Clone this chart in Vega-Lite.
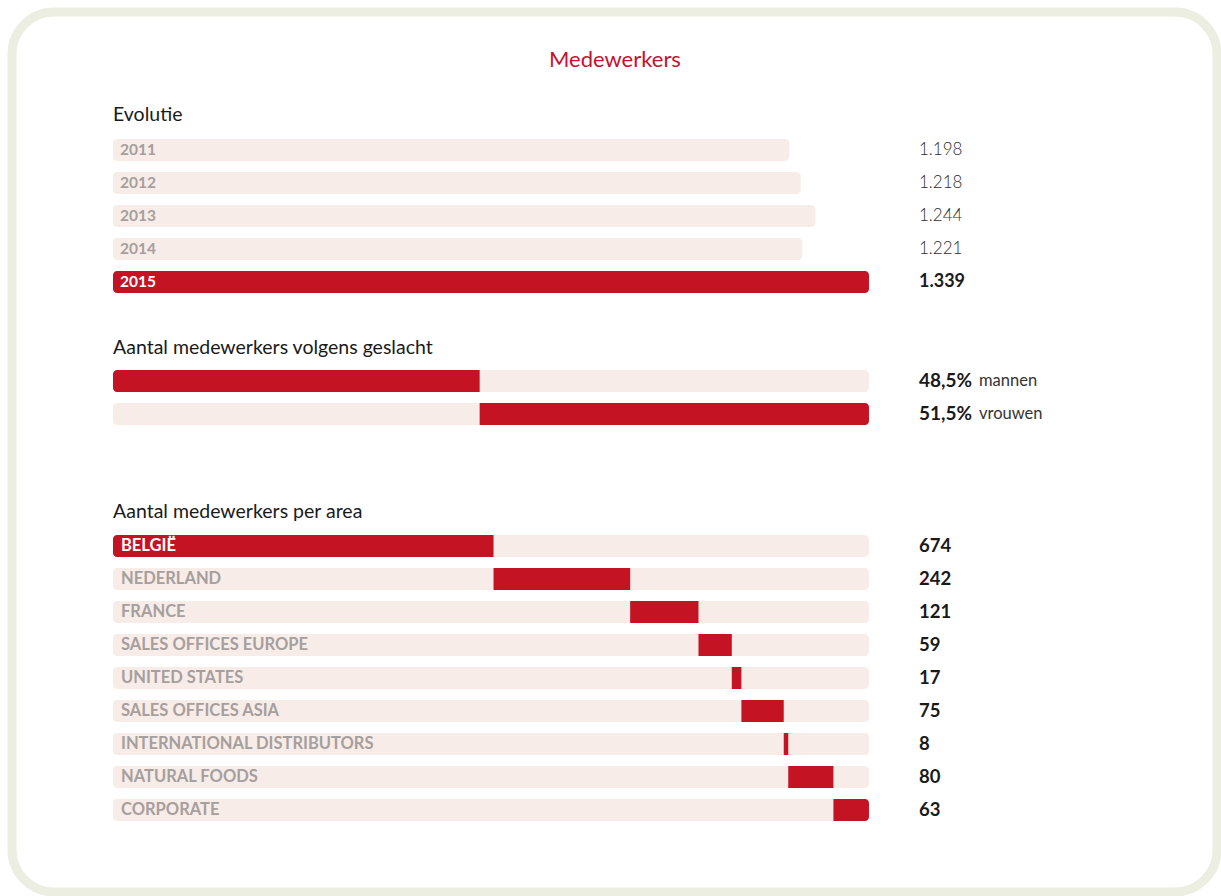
{
  "$schema": "https://vega.github.io/schema/vega-lite/v6.json",
  "width": 1205,
  "height": 880,
  "autosize": {"type": "none"},
  "padding": {"left": 12, "top": 12, "right": 4, "bottom": 4},
  "background": "white",
  "config": {
    "view": {"stroke": "#ebeee0", "strokeWidth": 9, "cornerRadius": 42},
    "font": "Lato",
    "locale": {"number": {"decimal": ",", "thousands": ".", "grouping": [3], "currency": ["€", ""]}}
  },
  "datasets": {
    "evo": [
      {"year": "2011", "value": 1198, "current": false},
      {"year": "2012", "value": 1218, "current": false},
      {"year": "2013", "value": 1244, "current": false},
      {"year": "2014", "value": 1221, "current": false},
      {"year": "2015", "value": 1339, "current": true}
    ],
    "gender": [
      {"label": "mannen", "share": 0.485, "start": 0.0, "end": 0.485},
      {"label": "vrouwen", "share": 0.515, "start": 0.485, "end": 1.0}
    ],
    "area": [
      {"name": "BELGIË", "count": 674},
      {"name": "NEDERLAND", "count": 242},
      {"name": "FRANCE", "count": 121},
      {"name": "SALES OFFICES EUROPE", "count": 59},
      {"name": "UNITED STATES", "count": 17},
      {"name": "SALES OFFICES ASIA", "count": 75},
      {"name": "INTERNATIONAL DISTRIBUTORS", "count": 8},
      {"name": "NATURAL FOODS", "count": 80},
      {"name": "CORPORATE", "count": 63}
    ],
    "titles": [
      {"text": "Evolutie", "row": -1.06},
      {"text": "Aantal medewerkers volgens geslacht", "row": 6},
      {"text": "Aantal medewerkers per area", "row": 10.97}
    ]
  },
  "encoding": {
    "y": {"field": "r", "type": "quantitative", "scale": {"domain": [-4.1818, 22.4848], "reverse": true, "zero": false, "nice": false, "padding": 0}, "axis": null}
  },
  "layer": [
    {
      "data": {"values": [{"text": "Medewerkers"}]},
      "transform": [{"calculate": "-2.73", "as": "r"}],
      "mark": {"type": "text", "fontSize": 22, "color": "#c8102e", "align": "center", "baseline": "middle"},
      "encoding": {
        "x": {"datum": 889, "type": "quantitative", "scale": {"domain": [-178.9, 1955.4], "nice": false, "zero": false, "padding": 0}, "axis": null},
        "text": {"field": "text"}
      }
    },
    {
      "data": {"name": "titles"},
      "transform": [{"calculate": "datum.row", "as": "r"}],
      "mark": {"type": "text", "fontSize": 19.5, "color": "#1a1a1a", "align": "left", "baseline": "middle"},
      "encoding": {"x": {"datum": 0}, "text": {"field": "text"}}
    },
    {
      "data": {"name": "evo"},
      "transform": [{"window": [{"op": "row_number", "as": "rn"}]}, {"calculate": "datum.rn - 1", "as": "r"}],
      "layer": [
        {
          "mark": {"type": "bar", "size": 22, "cornerRadius": 4},
          "encoding": {
            "x": {"field": "value", "type": "quantitative"},
            "x2": {"datum": 0},
            "color": {"condition": {"test": "datum.current", "value": "#c41424"}, "value": "#f8ece8"}
          }
        },
        {
          "mark": {"type": "text", "fontSize": 15.5, "fontWeight": "bold", "align": "left", "baseline": "middle", "dx": 7},
          "encoding": {
            "x": {"datum": 0},
            "text": {"field": "year"},
            "color": {"condition": {"test": "datum.current", "value": "#ffffff"}, "value": "#a59f9d"}
          }
        },
        {
          "transform": [{"filter": "!datum.current"}],
          "mark": {"type": "text", "fontSize": 17, "fontWeight": 300, "color": "#2e2e2e", "align": "left", "baseline": "middle", "dx": 50},
          "encoding": {
            "x": {"datum": 1339},
            "text": {"field": "value", "type": "quantitative", "format": ",d"}
          }
        },
        {
          "transform": [{"filter": "datum.current"}],
          "mark": {"type": "text", "fontSize": 18, "fontWeight": "bold", "color": "#1a1a1a", "align": "left", "baseline": "middle", "dx": 50},
          "encoding": {
            "x": {"datum": 1339},
            "text": {"field": "value", "type": "quantitative", "format": ",d"}
          }
        }
      ]
    },
    {
      "data": {"name": "gender"},
      "transform": [
        {"window": [{"op": "row_number", "as": "rn"}]},
        {"calculate": "datum.rn + 6", "as": "r"},
        {"calculate": "datum.start * 1339", "as": "x0"},
        {"calculate": "datum.end * 1339", "as": "x1"}
      ],
      "layer": [
        {
          "mark": {"type": "bar", "size": 22, "cornerRadius": 4, "color": "#f8ece8"},
          "encoding": {"x": {"datum": 0}, "x2": {"datum": 1339}}
        },
        {
          "transform": [{"filter": "datum.rn == 1"}],
          "mark": {"type": "bar", "size": 22, "color": "#c41424", "cornerRadiusTopLeft": 4, "cornerRadiusBottomLeft": 4},
          "encoding": {"x": {"field": "x0", "type": "quantitative"}, "x2": {"field": "x1"}}
        },
        {
          "transform": [{"filter": "datum.rn == 2"}],
          "mark": {"type": "bar", "size": 22, "color": "#c41424", "cornerRadiusTopRight": 4, "cornerRadiusBottomRight": 4},
          "encoding": {"x": {"field": "x0", "type": "quantitative"}, "x2": {"field": "x1"}}
        },
        {
          "mark": {"type": "text", "fontSize": 19, "fontWeight": "bold", "color": "#1a1a1a", "align": "left", "baseline": "middle", "dx": 50},
          "encoding": {
            "x": {"datum": 1339},
            "text": {"field": "share", "type": "quantitative", "format": ".1%"}
          }
        },
        {
          "mark": {"type": "text", "fontSize": 16.5, "color": "#333333", "align": "left", "baseline": "middle", "dx": 110},
          "encoding": {
            "x": {"datum": 1339},
            "text": {"field": "label"}
          }
        }
      ]
    },
    {
      "data": {"name": "area"},
      "transform": [
        {"window": [{"op": "row_number", "as": "rn"}, {"op": "sum", "field": "count", "as": "cum"}], "frame": [null, 0]},
        {"calculate": "datum.rn + 11", "as": "r"},
        {"calculate": "datum.cum - datum.count", "as": "start"}
      ],
      "layer": [
        {
          "mark": {"type": "bar", "size": 22, "cornerRadius": 4, "color": "#f8ece8"},
          "encoding": {"x": {"datum": 0}, "x2": {"datum": 1339}}
        },
        {
          "transform": [{"filter": "datum.rn == 1"}],
          "mark": {"type": "bar", "size": 22, "color": "#c41424", "cornerRadiusTopLeft": 4, "cornerRadiusBottomLeft": 4},
          "encoding": {"x": {"field": "start", "type": "quantitative"}, "x2": {"field": "cum"}}
        },
        {
          "transform": [{"filter": "datum.rn > 1 && datum.rn < 9"}],
          "mark": {"type": "bar", "size": 22, "color": "#c41424"},
          "encoding": {"x": {"field": "start", "type": "quantitative"}, "x2": {"field": "cum"}}
        },
        {
          "transform": [{"filter": "datum.rn == 9"}],
          "mark": {"type": "bar", "size": 22, "color": "#c41424", "cornerRadiusTopRight": 4, "cornerRadiusBottomRight": 4},
          "encoding": {"x": {"field": "start", "type": "quantitative"}, "x2": {"field": "cum"}}
        },
        {
          "mark": {"type": "text", "fontSize": 16.5, "fontWeight": "bold", "align": "left", "baseline": "middle", "dx": 8},
          "encoding": {
            "x": {"datum": 0},
            "text": {"field": "name"},
            "color": {"condition": {"test": "datum.rn == 1", "value": "#ffffff"}, "value": "#a59f9d"}
          }
        },
        {
          "mark": {"type": "text", "fontSize": 18.5, "fontWeight": "bold", "color": "#1a1a1a", "align": "left", "baseline": "middle", "dx": 50},
          "encoding": {
            "x": {"datum": 1339},
            "text": {"field": "count", "type": "quantitative", "format": "d"}
          }
        }
      ]
    }
  ]
}
